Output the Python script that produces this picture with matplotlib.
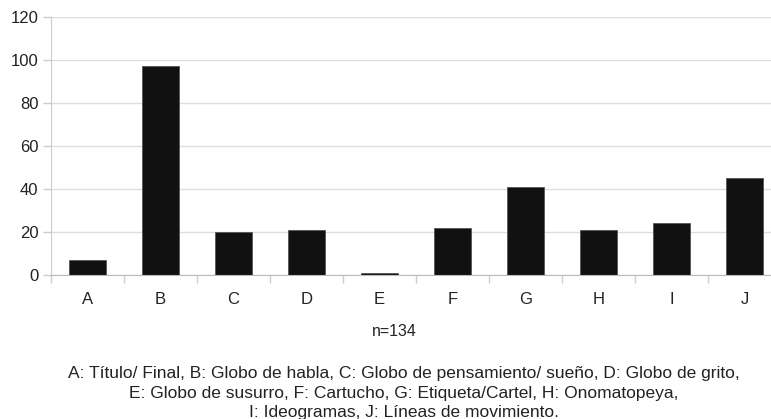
import numpy as np
import matplotlib
matplotlib.use('Agg')
import matplotlib.pyplot as plt

plt.rcParams['font.family'] = ['Liberation Sans', 'DejaVu Sans']

categories = ['A', 'B', 'C', 'D', 'E', 'F', 'G', 'H', 'I', 'J']
counts = [7, 97, 20, 21, 1, 22, 41, 21, 24, 45]
yticks = [0, 20, 40, 60, 80, 100, 120]
note = 'n=134'
caption = ('A: Título/ Final, B: Globo de habla, C: Globo de pensamiento/ sueño, D: Globo de grito,\n'
           'E: Globo de susurro, F: Cartucho, G: Etiqueta/Cartel, H: Onomatopeya,\n'
           'I: Ideogramas, J: Líneas de movimiento.')

fig = plt.figure(figsize=(7.71, 4.19), dpi=100)
ax = fig.add_axes([51 / 771, 144 / 419, 730 / 771, 258 / 419])

x = np.arange(len(categories))
ax.bar(x, counts, width=0.5, color='#111111', edgecolor='#555555', linewidth=0.6, zorder=3)

ax.set_xlim(-0.5, len(categories) - 0.5)
ax.set_ylim(0, 120)
ax.set_yticks(yticks)
ax.set_yticklabels([str(v) for v in yticks], fontsize=12, color='#222222')
ax.set_xticks(x)
ax.set_xticklabels(categories, fontsize=12, color='#222222')
ax.tick_params(axis='x', length=0, pad=12)
ax.set_xticks(np.arange(-0.5, len(categories), 1), minor=True)
ax.tick_params(axis='x', which='minor', length=6, color='#cccccc', width=1)
ax.tick_params(axis='y', length=6, color='#cccccc', width=1, pad=3)

ax.grid(axis='y', color='#dddddd', linewidth=1, zorder=0)
for side in ['top', 'right']:
    ax.spines[side].set_visible(False)
ax.spines['left'].set_color('#cccccc')
ax.spines['bottom'].set_color('#bbbbbb')
ax.spines['bottom'].set_zorder(4)

fig.text(394 / 771, 1 - 331 / 419, note, ha='center', va='center', fontsize=11.5, color='#222222')
fig.text(404 / 771, 1 - 393 / 419, caption, ha='center', va='center', fontsize=12.5,
         color='#222222', linespacing=1.4)

fig.savefig('out.png', dpi=100)
